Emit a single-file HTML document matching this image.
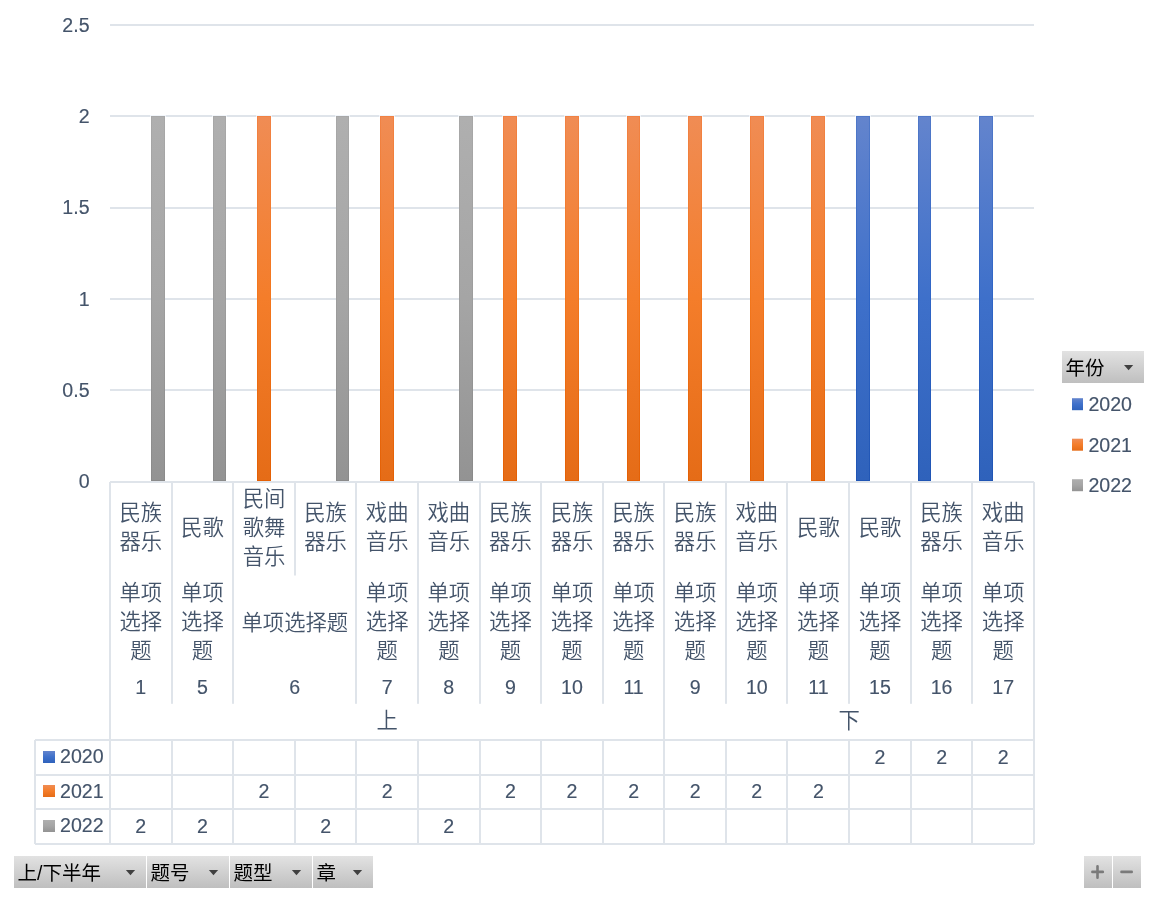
<!DOCTYPE html>
<html lang="zh-CN"><head><meta charset="utf-8"><title>数据透视图</title>
<style>
html,body{margin:0;padding:0;background:#fff;}
body{width:1160px;height:897px;overflow:hidden;}
svg{display:block;}
.c{font-family:"Liberation Sans","Noto Sans CJK SC",sans-serif;font-size:21.33px;font-weight:350;fill:#44546A;text-anchor:middle;}
.n{font-family:"Liberation Sans","Noto Sans CJK SC",sans-serif;font-size:19.6px;fill:#44546A;stroke:#44546A;stroke-width:0.15px;}
.m{text-anchor:middle;}.e{text-anchor:end;}
.b{font-family:"Liberation Sans","Noto Sans CJK SC",sans-serif;font-size:19.5px;fill:#000;}
.l{fill:#DFE4EA;}
</style></head><body>
<svg width="1160" height="897" viewBox="0 0 1160 897">
<defs>
<linearGradient id="gb" x1="0" y1="0" x2="0" y2="1"><stop offset="0" stop-color="#6384CD"/><stop offset="0.5" stop-color="#3E70CA"/><stop offset="1" stop-color="#2F62BB"/></linearGradient>
<linearGradient id="go" x1="0" y1="0" x2="0" y2="1"><stop offset="0" stop-color="#F08C54"/><stop offset="0.5" stop-color="#F47D2A"/><stop offset="1" stop-color="#E56C17"/></linearGradient>
<linearGradient id="gg" x1="0" y1="0" x2="0" y2="1"><stop offset="0" stop-color="#AFAFAF"/><stop offset="0.5" stop-color="#A5A5A5"/><stop offset="1" stop-color="#939393"/></linearGradient>
<linearGradient id="hb" x1="0" y1="0" x2="0" y2="1"><stop offset="0" stop-color="#5078C8"/><stop offset="0.5" stop-color="#2F65C6"/><stop offset="1" stop-color="#2055B4"/></linearGradient>
<linearGradient id="ho" x1="0" y1="0" x2="0" y2="1"><stop offset="0" stop-color="#F18244"/><stop offset="0.5" stop-color="#F3761C"/><stop offset="1" stop-color="#E46005"/></linearGradient>
<linearGradient id="hg" x1="0" y1="0" x2="0" y2="1"><stop offset="0" stop-color="#A8A8A8"/><stop offset="0.5" stop-color="#9D9D9D"/><stop offset="1" stop-color="#8A8A8A"/></linearGradient>
<linearGradient id="bt" x1="0" y1="0" x2="0" y2="1"><stop offset="0" stop-color="#E2E2E2"/><stop offset="1" stop-color="#BFBFBF"/></linearGradient>
</defs>
<rect width="1160" height="897" fill="#fff"/>
<rect class="l" x="110" y="24" width="924" height="2"/>
<rect class="l" x="110" y="115" width="924" height="2"/>
<rect class="l" x="110" y="207" width="924" height="2"/>
<rect class="l" x="110" y="298" width="924" height="2"/>
<rect class="l" x="110" y="389" width="924" height="2"/>
<rect x="150" y="115" width="16" height="2" fill="#F1F5FA"/>
<rect x="151" y="116" width="14" height="365" fill="url(#hg)"/>
<rect x="152" y="117" width="12" height="363" fill="url(#gg)"/>
<rect x="212" y="115" width="15" height="2" fill="#F1F5FA"/>
<rect x="213" y="116" width="13" height="365" fill="url(#hg)"/>
<rect x="214" y="117" width="11" height="363" fill="url(#gg)"/>
<rect x="256" y="115" width="16" height="2" fill="#F1F5FA"/>
<rect x="257" y="116" width="14" height="365" fill="url(#ho)"/>
<rect x="258" y="117" width="12" height="363" fill="url(#go)"/>
<rect x="335" y="115" width="15" height="2" fill="#F1F5FA"/>
<rect x="336" y="116" width="13" height="365" fill="url(#hg)"/>
<rect x="337" y="117" width="11" height="363" fill="url(#gg)"/>
<rect x="379" y="115" width="16" height="2" fill="#F1F5FA"/>
<rect x="380" y="116" width="14" height="365" fill="url(#ho)"/>
<rect x="381" y="117" width="12" height="363" fill="url(#go)"/>
<rect x="458" y="115" width="16" height="2" fill="#F1F5FA"/>
<rect x="459" y="116" width="14" height="365" fill="url(#hg)"/>
<rect x="460" y="117" width="12" height="363" fill="url(#gg)"/>
<rect x="502" y="115" width="16" height="2" fill="#F1F5FA"/>
<rect x="503" y="116" width="14" height="365" fill="url(#ho)"/>
<rect x="504" y="117" width="12" height="363" fill="url(#go)"/>
<rect x="564" y="115" width="16" height="2" fill="#F1F5FA"/>
<rect x="565" y="116" width="14" height="365" fill="url(#ho)"/>
<rect x="566" y="117" width="12" height="363" fill="url(#go)"/>
<rect x="626" y="115" width="15" height="2" fill="#F1F5FA"/>
<rect x="627" y="116" width="13" height="365" fill="url(#ho)"/>
<rect x="628" y="117" width="11" height="363" fill="url(#go)"/>
<rect x="687" y="115" width="16" height="2" fill="#F1F5FA"/>
<rect x="688" y="116" width="14" height="365" fill="url(#ho)"/>
<rect x="689" y="117" width="12" height="363" fill="url(#go)"/>
<rect x="749" y="115" width="16" height="2" fill="#F1F5FA"/>
<rect x="750" y="116" width="14" height="365" fill="url(#ho)"/>
<rect x="751" y="117" width="12" height="363" fill="url(#go)"/>
<rect x="810" y="115" width="16" height="2" fill="#F1F5FA"/>
<rect x="811" y="116" width="14" height="365" fill="url(#ho)"/>
<rect x="812" y="117" width="12" height="363" fill="url(#go)"/>
<rect x="855" y="115" width="16" height="2" fill="#F1F5FA"/>
<rect x="856" y="116" width="14" height="365" fill="url(#hb)"/>
<rect x="857" y="117" width="12" height="363" fill="url(#gb)"/>
<rect x="917" y="115" width="15" height="2" fill="#F1F5FA"/>
<rect x="918" y="116" width="13" height="365" fill="url(#hb)"/>
<rect x="919" y="117" width="11" height="363" fill="url(#gb)"/>
<rect x="978" y="115" width="16" height="2" fill="#F1F5FA"/>
<rect x="979" y="116" width="14" height="365" fill="url(#hb)"/>
<rect x="980" y="117" width="12" height="363" fill="url(#gb)"/>
<rect class="l" x="110" y="481" width="924" height="2"/>
<text class="n e" x="89.6" y="32.0">2.5</text>
<text class="n e" x="89.6" y="123.0">2</text>
<text class="n e" x="89.6" y="214.4">1.5</text>
<text class="n e" x="89.6" y="306.0">1</text>
<text class="n e" x="89.6" y="397.4">0.5</text>
<text class="n e" x="89.6" y="488.0">0</text>
<rect class="l" x="109" y="482" width="2" height="362"/>
<rect class="l" x="171" y="482" width="2" height="221.79999999999995"/>
<rect class="l" x="171" y="740" width="2" height="104"/>
<rect class="l" x="232" y="482" width="2" height="221.79999999999995"/>
<rect class="l" x="232" y="740" width="2" height="104"/>
<rect class="l" x="294" y="482" width="2" height="93.5"/>
<rect class="l" x="294" y="740" width="2" height="104"/>
<rect class="l" x="355" y="482" width="2" height="221.79999999999995"/>
<rect class="l" x="355" y="740" width="2" height="104"/>
<rect class="l" x="417" y="482" width="2" height="221.79999999999995"/>
<rect class="l" x="417" y="740" width="2" height="104"/>
<rect class="l" x="479" y="482" width="2" height="221.79999999999995"/>
<rect class="l" x="479" y="740" width="2" height="104"/>
<rect class="l" x="540" y="482" width="2" height="221.79999999999995"/>
<rect class="l" x="540" y="740" width="2" height="104"/>
<rect class="l" x="602" y="482" width="2" height="221.79999999999995"/>
<rect class="l" x="602" y="740" width="2" height="104"/>
<rect class="l" x="663" y="482" width="2" height="362"/>
<rect class="l" x="725" y="482" width="2" height="221.79999999999995"/>
<rect class="l" x="725" y="740" width="2" height="104"/>
<rect class="l" x="786" y="482" width="2" height="221.79999999999995"/>
<rect class="l" x="786" y="740" width="2" height="104"/>
<rect class="l" x="848" y="482" width="2" height="221.79999999999995"/>
<rect class="l" x="848" y="740" width="2" height="104"/>
<rect class="l" x="910" y="482" width="2" height="221.79999999999995"/>
<rect class="l" x="910" y="740" width="2" height="104"/>
<rect class="l" x="971" y="482" width="2" height="221.79999999999995"/>
<rect class="l" x="971" y="740" width="2" height="104"/>
<rect class="l" x="1033" y="482" width="2" height="362"/>
<rect class="l" x="34" y="740" width="2" height="104"/>
<rect class="l" x="35" y="739" width="999" height="2"/>
<rect class="l" x="35" y="774" width="999" height="2"/>
<rect class="l" x="35" y="808" width="999" height="2"/>
<rect class="l" x="35" y="843" width="999" height="2"/>
<text class="c" x="140.80" y="520.40">民族</text>
<text class="c" x="140.80" y="549.40">器乐</text>
<text class="c" x="140.80" y="600.40">单项</text>
<text class="c" x="140.80" y="629.40">选择</text>
<text class="c" x="140.80" y="658.40">题</text>
<text class="n m" x="140.80" y="694.00">1</text>
<text class="c" x="202.40" y="534.90">民歌</text>
<text class="c" x="202.40" y="600.40">单项</text>
<text class="c" x="202.40" y="629.40">选择</text>
<text class="c" x="202.40" y="658.40">题</text>
<text class="n m" x="202.40" y="694.00">5</text>
<text class="c" x="264.00" y="505.90">民间</text>
<text class="c" x="264.00" y="534.90">歌舞</text>
<text class="c" x="264.00" y="563.90">音乐</text>
<text class="c" x="294.80" y="630.20">单项选择题</text>
<text class="n m" x="294.80" y="694.00">6</text>
<text class="c" x="325.60" y="520.40">民族</text>
<text class="c" x="325.60" y="549.40">器乐</text>
<text class="c" x="387.20" y="520.40">戏曲</text>
<text class="c" x="387.20" y="549.40">音乐</text>
<text class="c" x="387.20" y="600.40">单项</text>
<text class="c" x="387.20" y="629.40">选择</text>
<text class="c" x="387.20" y="658.40">题</text>
<text class="n m" x="387.20" y="694.00">7</text>
<text class="c" x="448.80" y="520.40">戏曲</text>
<text class="c" x="448.80" y="549.40">音乐</text>
<text class="c" x="448.80" y="600.40">单项</text>
<text class="c" x="448.80" y="629.40">选择</text>
<text class="c" x="448.80" y="658.40">题</text>
<text class="n m" x="448.80" y="694.00">8</text>
<text class="c" x="510.40" y="520.40">民族</text>
<text class="c" x="510.40" y="549.40">器乐</text>
<text class="c" x="510.40" y="600.40">单项</text>
<text class="c" x="510.40" y="629.40">选择</text>
<text class="c" x="510.40" y="658.40">题</text>
<text class="n m" x="510.40" y="694.00">9</text>
<text class="c" x="572.00" y="520.40">民族</text>
<text class="c" x="572.00" y="549.40">器乐</text>
<text class="c" x="572.00" y="600.40">单项</text>
<text class="c" x="572.00" y="629.40">选择</text>
<text class="c" x="572.00" y="658.40">题</text>
<text class="n m" x="572.00" y="694.00">10</text>
<text class="c" x="633.60" y="520.40">民族</text>
<text class="c" x="633.60" y="549.40">器乐</text>
<text class="c" x="633.60" y="600.40">单项</text>
<text class="c" x="633.60" y="629.40">选择</text>
<text class="c" x="633.60" y="658.40">题</text>
<text class="n m" x="633.60" y="694.00">11</text>
<text class="c" x="695.20" y="520.40">民族</text>
<text class="c" x="695.20" y="549.40">器乐</text>
<text class="c" x="695.20" y="600.40">单项</text>
<text class="c" x="695.20" y="629.40">选择</text>
<text class="c" x="695.20" y="658.40">题</text>
<text class="n m" x="695.20" y="694.00">9</text>
<text class="c" x="756.80" y="520.40">戏曲</text>
<text class="c" x="756.80" y="549.40">音乐</text>
<text class="c" x="756.80" y="600.40">单项</text>
<text class="c" x="756.80" y="629.40">选择</text>
<text class="c" x="756.80" y="658.40">题</text>
<text class="n m" x="756.80" y="694.00">10</text>
<text class="c" x="818.40" y="534.90">民歌</text>
<text class="c" x="818.40" y="600.40">单项</text>
<text class="c" x="818.40" y="629.40">选择</text>
<text class="c" x="818.40" y="658.40">题</text>
<text class="n m" x="818.40" y="694.00">11</text>
<text class="c" x="880.00" y="534.90">民歌</text>
<text class="c" x="880.00" y="600.40">单项</text>
<text class="c" x="880.00" y="629.40">选择</text>
<text class="c" x="880.00" y="658.40">题</text>
<text class="n m" x="880.00" y="694.00">15</text>
<text class="c" x="941.60" y="520.40">民族</text>
<text class="c" x="941.60" y="549.40">器乐</text>
<text class="c" x="941.60" y="600.40">单项</text>
<text class="c" x="941.60" y="629.40">选择</text>
<text class="c" x="941.60" y="658.40">题</text>
<text class="n m" x="941.60" y="694.00">16</text>
<text class="c" x="1003.20" y="520.40">戏曲</text>
<text class="c" x="1003.20" y="549.40">音乐</text>
<text class="c" x="1003.20" y="600.40">单项</text>
<text class="c" x="1003.20" y="629.40">选择</text>
<text class="c" x="1003.20" y="658.40">题</text>
<text class="n m" x="1003.20" y="694.00">17</text>
<text class="c" x="387.20" y="728.40">上</text>
<text class="c" x="849.20" y="728.40">下</text>
<rect x="43" y="751" width="12" height="12" fill="url(#gb)"/>
<text class="n" x="60" y="763">2020</text>
<text class="n m" x="880.00" y="764">2</text>
<text class="n m" x="941.60" y="764">2</text>
<text class="n m" x="1003.20" y="764">2</text>
<rect x="43" y="785" width="12" height="12" fill="url(#go)"/>
<text class="n" x="60" y="798">2021</text>
<text class="n m" x="264.00" y="798">2</text>
<text class="n m" x="387.20" y="798">2</text>
<text class="n m" x="510.40" y="798">2</text>
<text class="n m" x="572.00" y="798">2</text>
<text class="n m" x="633.60" y="798">2</text>
<text class="n m" x="695.20" y="798">2</text>
<text class="n m" x="756.80" y="798">2</text>
<text class="n m" x="818.40" y="798">2</text>
<rect x="43" y="820" width="12" height="12" fill="url(#gg)"/>
<text class="n" x="60" y="832">2022</text>
<text class="n m" x="140.80" y="833">2</text>
<text class="n m" x="202.40" y="833">2</text>
<text class="n m" x="325.60" y="833">2</text>
<text class="n m" x="448.80" y="833">2</text>
<rect x="1062" y="351" width="82" height="32" fill="url(#bt)"/>
<text class="b" x="1065.5" y="374.6">年份</text>
<path d="M1124 365h9.2l-4.6 5.2z" fill="#404040"/>
<rect x="1072" y="398.2" width="11" height="12" fill="url(#gb)"/>
<text class="n" x="1088.4" y="411.2">2020</text>
<rect x="1072" y="438.7" width="11" height="12" fill="url(#go)"/>
<text class="n" x="1088.4" y="451.7">2021</text>
<rect x="1072" y="479.2" width="11" height="12" fill="url(#gg)"/>
<text class="n" x="1088.4" y="492.2">2022</text>
<rect x="14" y="856" width="132.0" height="32" fill="url(#bt)"/>
<text class="b" x="17.6" y="879.8">上/下半年</text>
<path d="M125.9 870h9.2l-4.6 5.2z" fill="#404040"/>
<rect x="147" y="856" width="82.0" height="32" fill="url(#bt)"/>
<text class="b" x="150.6" y="879.8">题号</text>
<path d="M208.9 870h9.2l-4.6 5.2z" fill="#404040"/>
<rect x="230" y="856" width="82.0" height="32" fill="url(#bt)"/>
<text class="b" x="233.6" y="879.8">题型</text>
<path d="M291.9 870h9.2l-4.6 5.2z" fill="#404040"/>
<rect x="313" y="856" width="60.0" height="32" fill="url(#bt)"/>
<text class="b" x="316.6" y="879.8">章</text>
<path d="M352.9 870h9.2l-4.6 5.2z" fill="#404040"/>
<rect x="1084" y="856" width="28" height="32" fill="url(#bt)"/>
<rect x="1113" y="856" width="28" height="32" fill="url(#bt)"/>
<g stroke="#7A7A7A" stroke-width="2.6" stroke-linecap="round" fill="none">
<path d="M1092.4 871.9H1102.8M1097.5 866.2V877.7"/>
<path d="M1121.5 871.9H1131.7"/>
</g>
</svg>
</body></html>
